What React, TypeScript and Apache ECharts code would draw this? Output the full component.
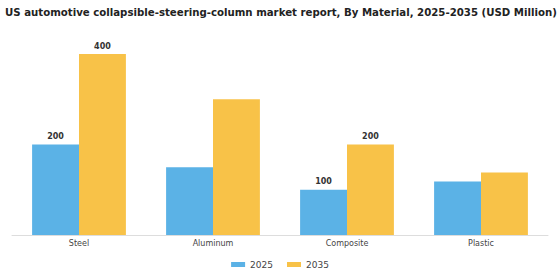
import React, { useEffect, useRef } from "react";
import * as echarts from "echarts";

const categories = ["Steel", "Aluminum", "Composite", "Plastic"];
const values2025 = [200, 150, 100, 118];
const values2035 = [400, 300, 200, 138];
const labeled2025 = [true, false, true, false];
const labeled2035 = [true, false, true, false];
const seriesNames = ["2025", "2035"];

export default function App() {
  const ref = useRef<HTMLDivElement>(null);
  useEffect(() => {
    if (!ref.current) return;
    const chart = echarts.init(ref.current, undefined, { renderer: "svg" });
    const mk = (vals: number[], flags: boolean[]) =>
      vals.map((v, i) => ({
        value: v,
        label: { show: flags[i] },
      }));
    const labelStyle = {
      position: "top" as const,
      fontSize: 8,
      fontWeight: "bold" as const,
      color: "#333",
      fontFamily: "DejaVu Sans",
      distance: 4,
    };
    chart.setOption({
      animation: false,
      title: {
        text: "US automotive collapsible-steering-column market report, By Material, 2025-2035 (USD Million)",
        left: 0,
        top: 2,
        textStyle: {
          fontSize: 10.2,
          fontWeight: "bold",
          color: "#222",
          fontFamily: "DejaVu Sans",
        },
      },
      legend: {
        data: seriesNames,
        bottom: 6,
        left: "center",
        itemWidth: 14,
        itemHeight: 5,
        itemGap: 14,
        icon: "rect",
        textStyle: { fontSize: 9, color: "#444", fontFamily: "DejaVu Sans" },
      },
      grid: { left: 12, right: 12, top: 54, bottom: 45 },
      xAxis: {
        type: "category",
        data: categories,
        axisLine: { lineStyle: { color: "#ddd" } },
        axisTick: { show: false },
        axisLabel: { fontSize: 8, color: "#444", fontFamily: "DejaVu Sans", margin: 4 },
      },
      yAxis: {
        type: "value",
        min: 0,
        max: 400,
        show: false,
      },
      series: [
        {
          name: seriesNames[0],
          type: "bar",
          data: mk(values2025, labeled2025),
          barGap: "0%",
          barCategoryGap: "30%",
          itemStyle: { color: "#5BB2E6" },
          label: labelStyle,
        },
        {
          name: seriesNames[1],
          type: "bar",
          data: mk(values2035, labeled2035),
          barGap: "0%",
          barCategoryGap: "30%",
          itemStyle: { color: "#F8C248" },
          label: labelStyle,
        },
      ],
    });
    return () => chart.dispose();
  }, []);
  return <div ref={ref} style={{ width: 560, height: 280, position: "absolute", left: 0, top: 0 }} />;
}
